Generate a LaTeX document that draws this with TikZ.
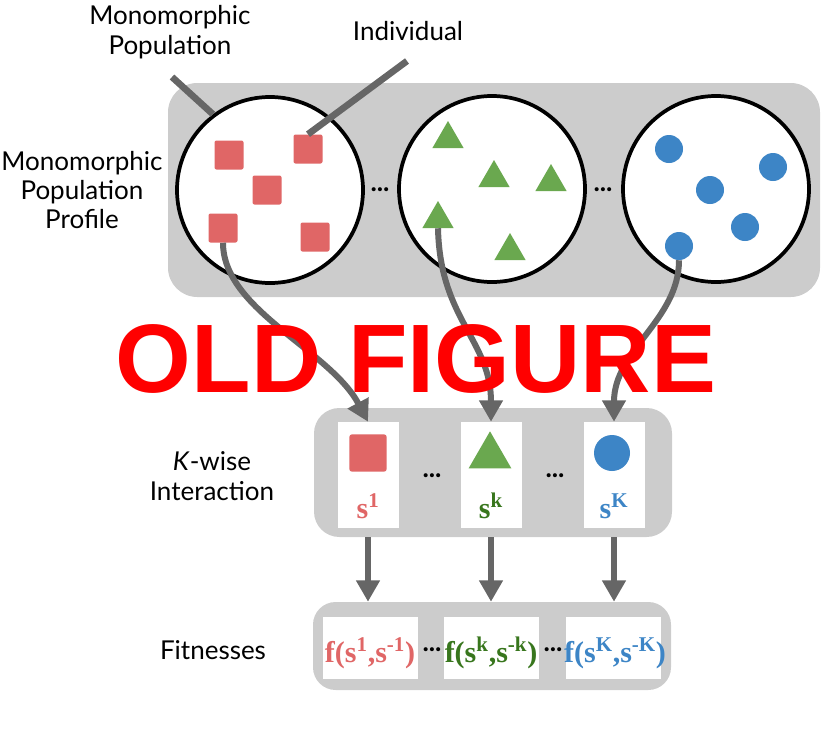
\documentclass[tikz,border=0pt]{standalone}
\usepackage{fontspec}
\setmainfont{Lato}
\newfontfamily\tms{Liberation Serif}
\newfontfamily\arl{Liberation Sans}
\usetikzlibrary{arrows.meta,shapes.geometric}
\definecolor{gboxc}{HTML}{CCCCCC}
\definecolor{pr}{HTML}{E06666}
\definecolor{pg}{HTML}{6AA84F}
\definecolor{pb}{HTML}{3D85C6}
\definecolor{dg}{HTML}{38761D}
\definecolor{ln}{HTML}{666666}
\tikzset{
 grey/.style={fill=gboxc, draw=none, inner sep=0},
 popc/.style={circle, draw=black, line width=2.8pt, fill=white, minimum size=139.5pt, inner sep=0},
 rsq/.style={rectangle, fill=pr, minimum size=21.75pt, inner sep=0, rounded corners=1.5pt},
 gtri/.style={regular polygon, regular polygon sides=3, fill=pg, minimum size=27pt, inner sep=0},
 bdot/.style={circle, fill=pb, minimum size=21pt, inner sep=0},
 wbox/.style={fill=white, inner sep=0},
 conn/.style={draw=ln, line width=4.5pt, -{Triangle[length=16pt,width=17pt]}},
 ptr/.style={draw=ln, line width=5pt},
 lbl/.style={font=\fontsize{19.5}{22}\selectfont, align=center, inner sep=0},
 dotsl/.style={font=\fontsize{20}{20}\selectfont\bfseries, inner sep=0},
 mth/.style={font=\tms\bfseries\fontsize{22.5}{22.5}\selectfont, inner sep=0},
}
\begin{document}
\begin{tikzpicture}[x=0.75pt,y=-0.75pt]
\useasboundingbox (0,0) rectangle (825,750);
% containers
\node[grey, rounded corners=22pt, minimum width=489pt, minimum height=160.5pt] (gtop) at (494,190) {};
\node[grey, rounded corners=19pt, minimum width=268.5pt, minimum height=96.75pt] (gmid) at (493,472.5) {};
\node[grey, rounded corners=17pt, minimum width=268.5pt, minimum height=66pt] (gbot) at (492,646) {};
% population circles
\node[popc] (c1) at (270,190) {};
\node[popc] (c2) at (492,189) {};
\node[popc] (c3) at (716,189) {};
\node[dotsl] (d1) at (380,190) {...};
\node[dotsl] (d2) at (603,190) {...};
% red squares
\node[rsq] (r1) at (229,155) {};
\node[rsq] (r2) at (308,149) {};
\node[rsq] (r3) at (267,190) {};
\node[rsq] (r4) at (223,228) {};
\node[rsq] (r5) at (315,237) {};
% green triangles
\node[gtri] (t1) at (448,139) {};
\node[gtri] (t2) at (494,178) {};
\node[gtri] (t3) at (551,182) {};
\node[gtri] (t4) at (438,219) {};
\node[gtri] (t5) at (510,251) {};
% blue dots
\node[bdot] (b1) at (669,149) {};
\node[bdot] (b2) at (773,167) {};
\node[bdot] (b3) at (710,190) {};
\node[bdot] (b4) at (745,227) {};
\node[bdot] (b5) at (679,246) {};
% middle row
\node[wbox, minimum width=45.75pt, minimum height=79.5pt] (w1) at (368,475) {};
\node[wbox, minimum width=45.75pt, minimum height=79.5pt] (w2) at (491,475) {};
\node[wbox, minimum width=45.75pt, minimum height=79.5pt] (w3) at (614,475) {};
\node[rectangle, fill=pr, minimum size=28pt, inner sep=0, rounded corners=2pt] (ms) at (368,453) {};
\node[regular polygon, regular polygon sides=3, fill=pg, minimum size=37pt, inner sep=0] (mt) at (490,456) {};
\node[circle, fill=pb, minimum size=27pt, inner sep=0] (mc) at (612,453) {};
\node[mth, text=pr, anchor=base] (s1) at (368,518) {s\textsuperscript{1}};
\node[mth, text=dg, anchor=base] (s2) at (491,518) {s\textsuperscript{k}};
\node[mth, text=pb, anchor=base] (s3) at (614,518) {s\textsuperscript{K}};
\node[dotsl] (d3) at (432,476) {...};
\node[dotsl] (d4) at (555,476) {...};
% bottom row
\node[wbox, minimum width=71.25pt, minimum height=46.5pt] (f1) at (370,648) {};
\node[wbox, minimum width=71.25pt, minimum height=46.5pt] (f2) at (491,648) {};
\node[wbox, minimum width=71.25pt, minimum height=46.5pt] (f3) at (613,648) {};
\node[mth, text=pr, anchor=base] (e1) at (370,662) {f(s\textsuperscript{1},s\textsuperscript{-1})};
\node[mth, text=dg, anchor=base] (e2) at (491,662) {f(s\textsuperscript{k},s\textsuperscript{-k})};
\node[mth, text=pb, anchor=base] (e3) at (615,662) {f(s\textsuperscript{K},s\textsuperscript{-K})};
\node[dotsl] (d5) at (432,650) {...};
\node[dotsl] (d6) at (553,650) {...};
% labels
\node[lbl] (lmp) at (170,32) {Monomorphic\\Population};
\node[lbl] (lind) at (408,31) {Individual};
\node[lbl] (lprof) at (82,190) {Monomorphic\\Population\\Profile};
\node[lbl] (lkw) at (212,476) {\textit{K}-wise\\Interaction};
\node[lbl] (lfit) at (213,650) {Fitnesses};
% pointers
\coordinate (pmp) at (172,77);
\coordinate (pind) at (407,61);
\draw[ptr] (pmp) -- (c1.127);
\draw[ptr] (pind) -- (r2.north);
% connectors
\draw[conn] (r4.south) .. controls (223,310) and (330,350) .. (w1.north);
\draw[conn] (t4.south) .. controls (440,320) and (491,340) .. (w2.north);
\draw[conn] (b5.south) .. controls (679,320) and (614,350) .. (w3.north);
\draw[conn] (gmid.south -| w1) -- (gbot.north -| w1);
\draw[conn] (gmid.south -| w2) -- (gbot.north -| w2);
\draw[conn] (gmid.south -| w3) -- (gbot.north -| w3);
% watermark
\node[font=\arl\bfseries\fontsize{73}{73}\selectfont, text=red, anchor=base, inner sep=0] (old) at (416,392) {OLD FIGURE};
\end{tikzpicture}
\end{document}
